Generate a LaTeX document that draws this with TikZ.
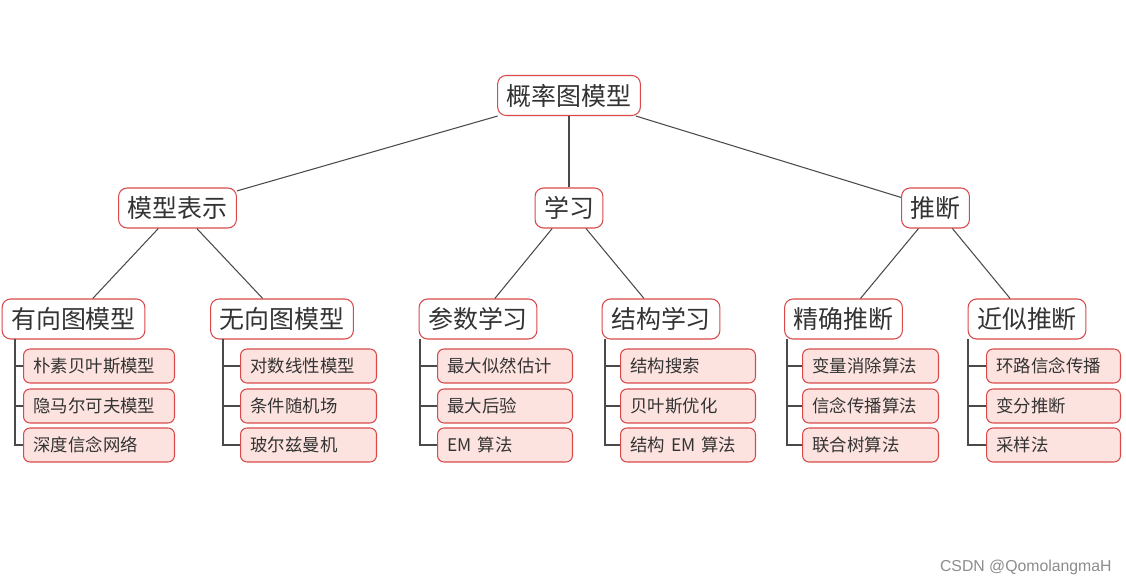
\documentclass[tikz,border=0pt]{standalone}
\usepackage{fontspec}
\newfontfamily\cjk{Noto Sans CJK SC}
\newfontfamily\wmfont{Liberation Sans}
\definecolor{boxred}{HTML}{D9494A}
\definecolor{boxpink}{HTML}{FDE3DF}
\definecolor{linegray}{HTML}{4A4A4A}

\begin{document}
\begin{tikzpicture}[x=0.02cm,y=-0.02cm,
	bigbox/.style={draw=boxred,line width=0.6pt,fill=white,rounded corners=0.17cm,
		inner xsep=0.18cm,inner ysep=0pt,minimum height=0.8cm,
		font=\cjk\fontsize{14.2}{17}\selectfont,text=black!80},
	leafbox/.style={draw=boxred,line width=0.6pt,fill=boxpink,rounded corners=0.13cm,
		inner xsep=0.2cm,inner ysep=0pt,minimum height=0.68cm,anchor=west,
		text width=#1,align=left,font=\cjk\fontsize{9.9}{12}\selectfont,text=black!80},
	link/.style={draw=linegray,line width=0.6pt}]
	\useasboundingbox (0,0) rectangle (1126,587);
	% root and second level
	\node[bigbox] (gm) at (569,95.5) {概率图模型};
	\node[bigbox] (rep) at (177.5,208) {模型表示};
	\node[bigbox] (learn) at (569,208) {学习};
	\node[bigbox] (infer) at (935.5,208) {推断};
	% third level
	\node[bigbox] (dir) at (73.5,319) {有向图模型};
	\node[bigbox] (undir) at (282,319) {无向图模型};
	\node[bigbox] (param) at (478,319) {参数学习};
	\node[bigbox] (struct) at (661,319) {结构学习};
	\node[bigbox] (exact) at (843.5,319) {精确推断};
	\node[bigbox] (approx) at (1027,319) {近似推断};
	\draw[link] (gm) -- (rep);
	\draw[link] (gm) -- (learn);
	\draw[link] (gm) -- (infer);
	\draw[link] (rep) -- (dir);
	\draw[link] (rep) -- (undir);
	\draw[link] (learn) -- (param);
	\draw[link] (learn) -- (struct);
	\draw[link] (infer) -- (exact);
	\draw[link] (infer) -- (approx);
	% leaves
	\node[leafbox=2.62cm] (dir1) at (23,366) {朴素贝叶斯模型};
	\node[leafbox=2.62cm] (dir2) at (23,406) {隐马尔可夫模型};
	\node[leafbox=2.62cm] (dir3) at (23,445) {深度信念网络};
	\node[leafbox=2.32cm] (undir1) at (240,366) {对数线性模型};
	\node[leafbox=2.32cm] (undir2) at (240,406) {条件随机场};
	\node[leafbox=2.32cm] (undir3) at (240,445) {玻尔兹曼机};
	\node[leafbox=2.3cm] (param1) at (437,366) {最大似然估计};
	\node[leafbox=2.3cm] (param2) at (437,406) {最大后验};
	\node[leafbox=2.3cm] (param3) at (437,445) {EM 算法};
	\node[leafbox=2.3cm] (struct1) at (620,366) {结构搜索};
	\node[leafbox=2.3cm] (struct2) at (620,406) {贝叶斯优化};
	\node[leafbox=2.3cm] (struct3) at (620,445) {结构 EM 算法};
	\node[leafbox=2.32cm] (exact1) at (802,366) {变量消除算法};
	\node[leafbox=2.32cm] (exact2) at (802,406) {信念传播算法};
	\node[leafbox=2.32cm] (exact3) at (802,445) {联合树算法};
	\node[leafbox=2.28cm] (approx1) at (986,366) {环路信念传播};
	\node[leafbox=2.28cm] (approx2) at (986,406) {变分推断};
	\node[leafbox=2.28cm] (approx3) at (986,445) {采样法};
	\coordinate (dirB) at (15,339);
	\coordinate (undirB) at (223,339);
	\coordinate (paramB) at (420,339);
	\coordinate (structB) at (605,339);
	\coordinate (exactB) at (787,339);
	\coordinate (approxB) at (968,339);
	\draw[link] (dirB) |- (dir1.west) (dirB) |- (dir2.west) (dirB) |- (dir3.west);
	\draw[link] (undirB) |- (undir1.west) (undirB) |- (undir2.west) (undirB) |- (undir3.west);
	\draw[link] (paramB) |- (param1.west) (paramB) |- (param2.west) (paramB) |- (param3.west);
	\draw[link] (structB) |- (struct1.west) (structB) |- (struct2.west) (structB) |- (struct3.west);
	\draw[link] (exactB) |- (exact1.west) (exactB) |- (exact2.west) (exactB) |- (exact3.west);
	\draw[link] (approxB) |- (approx1.west) (approxB) |- (approx2.west) (approxB) |- (approx3.west);
	% watermark
	\node[anchor=east,inner sep=0pt,text=black!45,font=\wmfont\fontsize{9}{11}\selectfont] (mark) at (1112,567) {CSDN @QomolangmaH};
\end{tikzpicture}
\end{document}
